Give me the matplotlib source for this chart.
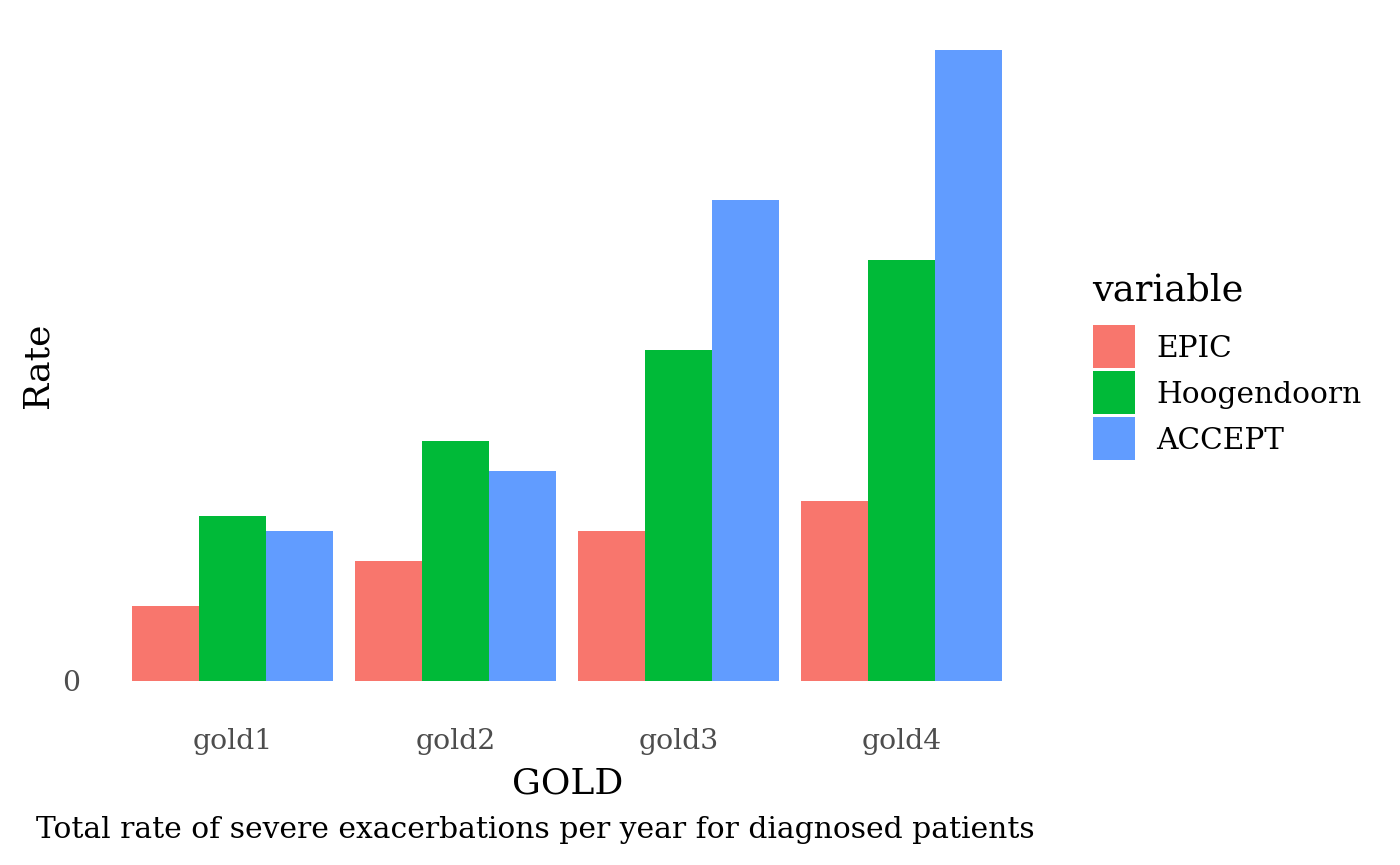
import numpy as np
import matplotlib
matplotlib.use('Agg')
import matplotlib.pyplot as plt
from matplotlib.patches import Rectangle

# data (arbitrary rate units)
categories = ['gold1', 'gold2', 'gold3', 'gold4']
series = ['EPIC', 'Hoogendoorn', 'ACCEPT']
epic = [0.005, 0.008, 0.010, 0.012]
hoogendoorn = [0.011, 0.016, 0.022, 0.028]
accept = [0.010, 0.014, 0.032, 0.042]
colors = ['#F8766D', '#00BA38', '#619CFF']

plt.rcParams['font.family'] = ['DejaVu Serif']

W, H = 1400, 865
fig = plt.figure(figsize=(14, 8.65), dpi=100)
ax = fig.add_axes([0.0705, 0.1763, 0.669, 0.8023])

x = np.arange(len(categories))
width = 0.9 / 3
for i, vals in enumerate([epic, hoogendoorn, accept]):
    ax.bar(x + (i - 1) * width, vals, width=width, color=colors[i], linewidth=0)

ax.set_xlim(-0.6, len(categories) - 1 + 0.6)
top = max(accept)
ax.set_ylim(-0.05 * top, 1.05 * top)
ax.set_xticks(x)
ax.set_xticklabels(categories)
ax.set_yticks([0])
ax.set_yticklabels(['0'])
ax.tick_params(length=0, labelsize=20.3, colors='#4d4d4d')
ax.tick_params(axis='x', pad=11)
ax.tick_params(axis='y', pad=13.5)
for s in ax.spines.values():
    s.set_visible(False)

# axis titles
ax.set_xlabel('GOLD', fontsize=26, va='baseline')
ax.xaxis.set_label_coords(567.5 / W, 1 - 793 / H, transform=fig.transFigure)
ax.set_ylabel('Rate', fontsize=26, va='baseline')
ax.yaxis.set_label_coords(47 / W, 1 - 365.5 / H, transform=fig.transFigure)

# caption
fig.text(36 / W, 1 - 838 / H, 'Total rate of severe exacerbations per year for diagnosed patients',
         fontsize=21.4, ha='left', va='baseline')

# legend
fig.text(1092 / W, 1 - 300.7 / H, 'variable', fontsize=26.5, ha='left', va='baseline')
key = 42.7
for i, (name, c) in enumerate(zip(series, colors)):
    y_top = 325 + i * 46
    fig.add_artist(Rectangle((1092.7 / W, 1 - (y_top + key) / H), key / W, key / H,
                             transform=fig.transFigure, facecolor=c, edgecolor='none'))
    fig.text(1156 / W, 1 - (y_top + key / 2 + 11) / H, name, fontsize=21.3,
             ha='left', va='baseline')

fig.savefig('out.png', dpi=100)
